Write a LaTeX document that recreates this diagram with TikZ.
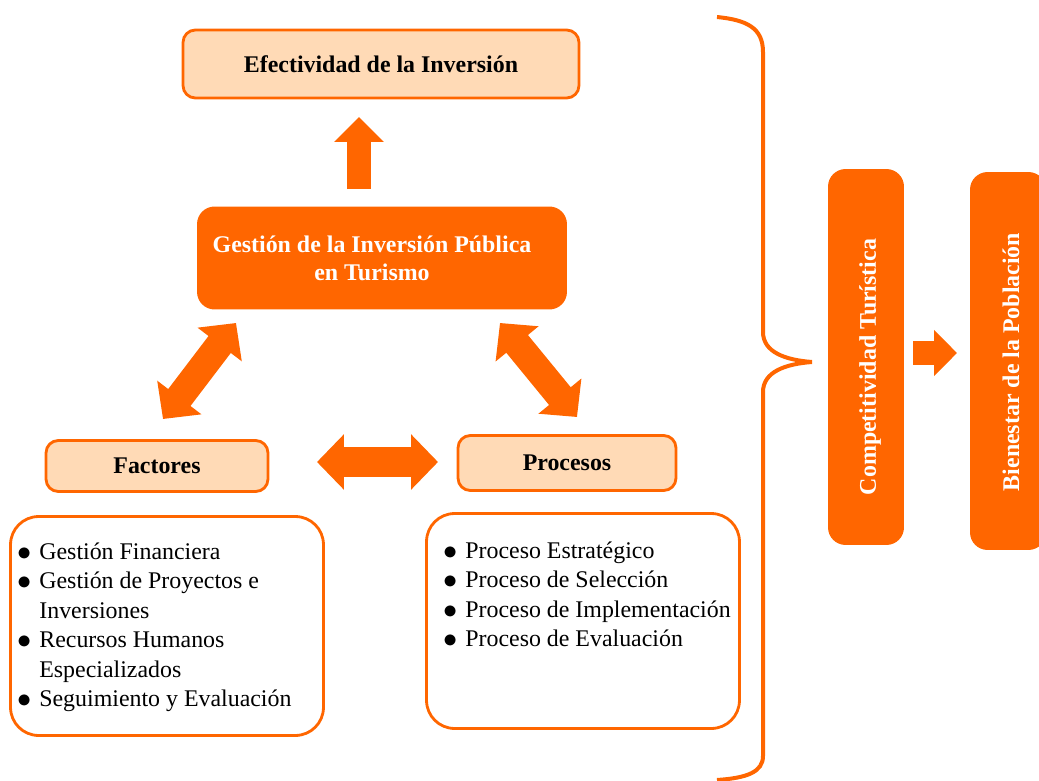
\documentclass[tikz,border=0pt]{standalone}
\usepackage{fontspec}
\setmainfont{Liberation Serif}
\usepackage{graphicx}
\usepackage{tikz}
\usetikzlibrary{positioning,calc,arrows.meta}

\definecolor{naranja}{HTML}{FF6600}
\definecolor{durazno}{HTML}{FFDAB6}

\newcommand{\vineta}{\makebox[0.44cm][l]{\raisebox{-0.1ex}{\scalebox{1.12}{$\bullet$}}}}

\tikzset{
    cajaclara/.style={draw=naranja,line width=1.6pt,fill=durazno,rounded corners=7pt,
        font=\fontsize{13.6}{16}\selectfont\bfseries},
    cajafuerte/.style={fill=naranja,rounded corners=10pt,text=white,
        font=\fontsize{13.6}{16}\selectfont\bfseries},
    cajalista/.style={draw=naranja,line width=1.6pt,fill=white,rounded corners=16pt},
    textolista/.style={font=\fontsize{13.6}{16.8}\selectfont,inner sep=0pt},
    flechadoble/.style={naranja,line width=0.56cm,
        {Triangle[length=0.54cm,width=1.08cm]}-{Triangle[length=0.54cm,width=1.08cm]}},
    flechasimple/.style={naranja,line width=0.5cm,-{Triangle[length=0.5cm,width=0.96cm]}}
}

\begin{document}
\begin{tikzpicture}[x=0.02cm,y=-0.02cm]
    \clip (0,0) rectangle (1039,781);

    % Cajas superiores
    \node[cajaclara,minimum width=7.92cm,minimum height=1.36cm] (efect) at (381,64) {Efectividad de la Inversión};
    \node[cajafuerte,minimum width=7.4cm,minimum height=2.06cm,align=center] (gestion) at (382,258)
        {Gestión de la Inversión Pública\hspace*{0.4cm}\\en Turismo\hspace*{0.4cm}};

    % Factores y procesos
    \node[cajaclara,minimum width=4.44cm,minimum height=1.02cm] (factores) at (157,466) {Factores};
    \node[cajaclara,minimum width=4.36cm,minimum height=1.1cm] (procesos) at (567,463) {Procesos};

    % Listas
    \node[cajalista,minimum width=6.26cm,minimum height=4.38cm] (listaF) at (167,626) {};
    \node[cajalista,minimum width=6.26cm,minimum height=4.3cm] (listaP) at (583,621) {};

    \node[textolista,anchor=base west] (textoF) at (17,559) {%
        \begin{tabular}[t]{@{}l@{}l@{}}
        \vineta & Gestión Financiera\\
        \vineta & Gestión de Proyectos e\\
                & Inversiones\\
        \vineta & Recursos Humanos\\
                & Especializados\\
        \vineta & Seguimiento y Evaluación
        \end{tabular}};
    \node[textolista,anchor=base west] (textoP) at (443,558) {%
        \begin{tabular}[t]{@{}l@{}l@{}}
        \vineta & Proceso Estratégico\\
        \vineta & Proceso de Selección\\
        \vineta & Proceso de Implementación\\
        \vineta & Proceso de Evaluación
        \end{tabular}};

    % Columnas de la derecha
    \node[cajafuerte,minimum width=1.52cm,minimum height=7.52cm] (compet) at (866,357) {};
    \node[text=white,font=\fontsize{13.6}{16}\selectfont\bfseries,rotate=90] (competT) at (870,367) {Competitividad Turística};
    \node[cajafuerte,minimum width=1.52cm,minimum height=7.56cm] (bienestar) at (1008,361) {};
    \node[text=white,font=\fontsize{13.6}{16}\selectfont\bfseries,rotate=90] (bienestarT) at (1011,362) {Bienestar de la Población};

    % Extremos de las flechas
    \coordinate (upA) at (359,189);
    \coordinate (upB) at (359,117);
    \coordinate (izqA) at (163,419);
    \coordinate (izqB) at (236,323);
    \coordinate (derA) at (500,323);
    \coordinate (derB) at (577,417);
    \coordinate (horA) at (317,462);
    \coordinate (horB) at (438,462);
    \coordinate (finA) at (913,353);
    \coordinate (finB) at (957,353);

    % Flechas
    \draw[flechasimple] (upA) -- (upB);
    \draw[flechadoble] (izqA) -- (izqB);
    \draw[flechadoble] (derA) -- (derB);
    \draw[flechadoble,line width=0.6cm] (horA) -- (horB);
    \draw[naranja,line width=0.48cm,-{Triangle[length=0.46cm,width=0.9cm]}] (finA) -- (finB);

    % Llave
    \draw[naranja,line width=0.08cm] (717,17) .. controls (747,20) and (763,28) .. (763,52)
        -- (763,332) .. controls (763,352) and (785,360) .. (812,362)
        .. controls (785,364) and (763,372) .. (763,392)
        -- (763,756) .. controls (763,772) and (747,778) .. (717,780);
\end{tikzpicture}
\end{document}
